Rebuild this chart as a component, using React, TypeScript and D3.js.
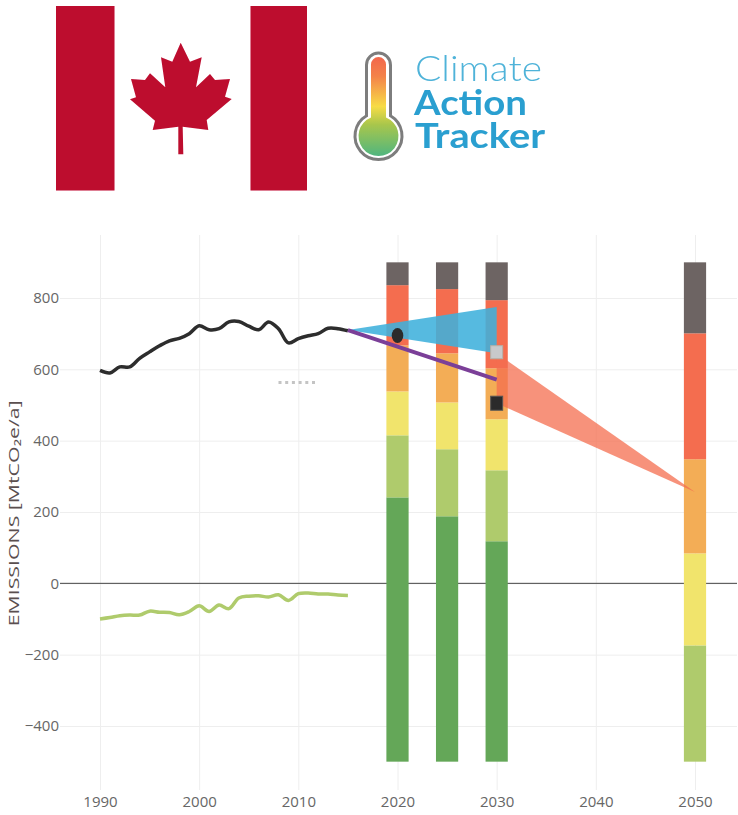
import { useEffect, useRef } from 'react';
import * as d3 from 'd3';

const histYears = d3.range(1990, 2016);
const emissions = [597, 590, 607, 607, 631, 649, 666, 680, 687, 700, 722, 711, 714, 733, 734, 721, 711, 733, 714, 674, 686, 694, 700, 715, 714, 708];
const lulucf = [-100, -96, -91, -89, -89, -78, -81, -82, -88, -79, -63, -79, -61, -71, -41, -36, -35, -38, -32, -48, -29, -27, -30, -30, -33, -34];

const barYears = [2020, 2025, 2030, 2050];
const barBase = -500;
const darkGreenTop = [241, 188, 118, -500];
const lightGreenTop = [415, 376, 317, -174];
const yellowTop = [538, 507, 460, 84];
const orangeTop = [667, 645, 603, 348];
const redTop = [836, 825, 794, 701];
const greyTop = [900, 900, 900, 900];

const xTicks = [1990, 2000, 2010, 2020, 2030, 2040, 2050];
const yTicks = [-400, -200, 0, 200, 400, 600, 800];

const pledgeYears = [2015, 2030];
const pledgeHigh = [710, 775];
const pledgeLow = [710, 645];
const targetYears = [2030, 2050];
const targetHigh = [645, 256];
const targetLow = [505, 256];
const policyYears = [2015, 2030];
const policy = [710, 571];
const dotYears = [2008, 2012];
const dotValues = [563, 563];

const leaf = 'M180.7 42.7L172.3 61.7L161 57.3L165.3 87.3L150 73.3L145 80L131 79L136 97.3L130 99.3L155 120.7L152.7 130L178.3 126.7L178.3 154.3L183.3 154.3L182.7 126.7L208.3 130L206.7 120L231.7 99L225 96.7L230 79L215 80L210 74L196 87.3L201.7 57.3L190 61.7Z';

export default function App() {
  const svgRef = useRef<SVGSVGElement | null>(null);

  useEffect(() => {
    if (!svgRef.current) return;
    const svg = d3.select(svgRef.current);
    svg.selectAll('*').remove();

    const x = d3.scaleLinear().domain([1990, 2050]).range([100, 695]);
    const y = d3.scaleLinear().domain([-400, 800]).range([726, 298]);
    const font = '"Open Sans", sans-serif';
    const defs = svg.append('defs');
    defs.append('filter').attr('id', 'soft').append('feGaussianBlur').attr('stdDeviation', 0.45);

    const brand = svg.append('g').attr('filter', 'url(#soft)');

    // Flag
    brand.append('rect').attr('x', 56).attr('y', 6).attr('width', 58.5).attr('height', 184.5).attr('fill', '#bd0a2f');
    brand.append('rect').attr('x', 250.5).attr('y', 6).attr('width', 56.5).attr('height', 184.5).attr('fill', '#bd0a2f');
    brand.append('path').attr('d', leaf).attr('fill', '#bd0a2f');

    // Logo
    const grad = defs.append('linearGradient').attr('id', 'thermo')
      .attr('gradientUnits', 'userSpaceOnUse')
      .attr('x1', 0).attr('x2', 0).attr('y1', 56).attr('y2', 157);
    [[0, '#f2654d'], [0.2, '#f4824a'], [0.5, '#f7dc45'], [0.68, '#a8c64c'], [1, '#4db580']].forEach(([o, c]) => {
      grad.append('stop').attr('offset', o as number).attr('stop-color', c as string);
    });
    const thermo = (hw: number, r: number, top: number) => {
      const cx = 378.5, cy = 136;
      const dy = Math.sqrt(r * r - hw * hw);
      return `M${cx - hw} ${cy - dy}V${top + hw}A${hw} ${hw} 0 0 1 ${cx + hw} ${top + hw}V${cy - dy}A${r} ${r} 0 1 1 ${cx - hw} ${cy - dy}Z`;
    };
    brand.append('path').attr('d', thermo(12, 23.5, 53)).attr('fill', '#fff').attr('stroke', '#7d7d7d').attr('stroke-width', 3);
    brand.append('path').attr('d', thermo(7.5, 20, 57)).attr('fill', 'url(#thermo)');
    const logoText = (s: string, tx: number, ty: number, size: number, len: number, weight: number, color: string) =>
      brand.append('text').attr('x', tx).attr('y', ty).attr('font-family', 'Lato, sans-serif').attr('font-size', size)
        .attr('font-weight', weight).attr('fill', color).attr('textLength', len).attr('lengthAdjust', 'spacingAndGlyphs').text(s);
    logoText('Climate', 415, 81, 36, 127, 300, '#4fb3d9');
    logoText('Action', 414, 115, 35, 113, 700, '#2a9fd0');
    logoText('Tracker', 415, 148, 35, 130, 700, '#2a9fd0');

    // Grid and axes
    const label = (d: d3.NumberValue) => String(d).replace('-', '−');
    const yAxis = svg.append('g').attr('transform', 'translate(60,0)')
      .call(d3.axisRight(y).tickValues(yTicks).tickSize(677).tickFormat(label));
    yAxis.select('.domain').remove();
    yAxis.selectAll('line').attr('stroke', '#eeeeee');
    yAxis.selectAll('text').attr('x', -1).attr('text-anchor', 'end').attr('font-family', font).attr('font-size', 15).attr('fill', '#666');

    const xAxis = svg.append('g').attr('transform', 'translate(0,790)')
      .call(d3.axisBottom(x).tickValues(xTicks).tickSize(-555).tickPadding(0).tickFormat(label));
    xAxis.select('.domain').remove();
    xAxis.selectAll('line').attr('stroke', '#eeeeee');
    xAxis.selectAll('text').attr('y', 6).attr('font-family', font).attr('font-size', 15).attr('fill', '#666');

    svg.append('line').attr('x1', 60).attr('x2', 737).attr('y1', y(0)).attr('y2', y(0)).attr('stroke', '#444').attr('stroke-width', 1);

    svg.append('text').attr('transform', `translate(19,${y(0) + 43}) rotate(-90)`)
      .attr('font-family', font).attr('font-size', 15).attr('fill', '#5a4f4f')
      .attr('textLength', 226).attr('lengthAdjust', 'spacingAndGlyphs').text('EMISSIONS [MtCO₂e/a]');

    // Stacked bars
    const bands = [
      { tops: darkGreenTop, color: '#64a758' },
      { tops: lightGreenTop, color: '#afcb6c' },
      { tops: yellowTop, color: '#f1e46c' },
      { tops: orangeTop, color: '#f3ad56' },
      { tops: redTop, color: '#f46d4f' },
      { tops: greyTop, color: '#6d6463' },
    ];
    bands.forEach((band, b) => {
      barYears.forEach((year, i) => {
        const lo = b === 0 ? barBase : bands[b - 1].tops[i];
        const hi = band.tops[i];
        if (hi <= lo) return;
        svg.append('rect')
          .attr('x', x(year - 1.12)).attr('width', x(year + 1.12) - x(year - 1.12))
          .attr('y', y(hi)).attr('height', y(lo) - y(hi))
          .attr('fill', band.color);
      });
    });

    // Target and pledge wedges
    const wedge = d3.area<number>()
      .x((_, i) => x(targetYears[i]))
      .y0((_, i) => y(targetLow[i]))
      .y1((d) => y(d));
    svg.append('path').attr('d', wedge(targetHigh)).attr('fill', '#f46d4f').attr('fill-opacity', 0.75);

    const pledge = d3.area<number>()
      .x((_, i) => x(pledgeYears[i]))
      .y0((_, i) => y(pledgeLow[i]))
      .y1((d) => y(d));
    svg.append('path').attr('d', pledge(pledgeHigh)).attr('fill', '#3fb1dc').attr('fill-opacity', 0.88);

    // Lines
    const line = (years: number[]) => d3.line<number>()
      .x((_, i) => x(years[i]))
      .y((d) => y(d))
      .curve(d3.curveCatmullRom.alpha(0.5));

    svg.append('path').attr('d', line(histYears)(emissions)).attr('fill', 'none').attr('stroke', '#2d2d2d').attr('stroke-width', 3.5);
    svg.append('path').attr('d', line(histYears)(lulucf)).attr('fill', 'none').attr('stroke', '#afcb6c').attr('stroke-width', 3.5);
    svg.append('path').attr('d', line(policyYears)(policy)).attr('fill', 'none').attr('stroke', '#7b3f98').attr('stroke-width', 3.8);
    svg.append('path').attr('d', line(dotYears)(dotValues)).attr('fill', 'none').attr('stroke', '#c4c4c4')
      .attr('stroke-width', 3).attr('stroke-dasharray', '3 3.7');

    // Markers
    svg.append('ellipse').attr('cx', x(2020)).attr('cy', y(695)).attr('rx', 5.8).attr('ry', 7.5).attr('fill', '#2b2b2b');
    svg.append('rect').attr('x', x(2030) - 6).attr('y', y(648) - 6.5).attr('width', 12).attr('height', 13)
      .attr('fill', '#c8c9cb').attr('stroke', '#b5b1a8').attr('stroke-width', 1);
    svg.append('rect').attr('x', x(2030) - 6).attr('y', y(505) - 7).attr('width', 12).attr('height', 14)
      .attr('fill', '#2b2b2b').attr('stroke', '#555').attr('stroke-width', 1);
  }, []);

  return (
    <svg
      ref={svgRef}
      width={738}
      height={815}
      style={{ position: 'absolute', left: 0, top: 0, background: '#fff' }}
    />
  );
}
